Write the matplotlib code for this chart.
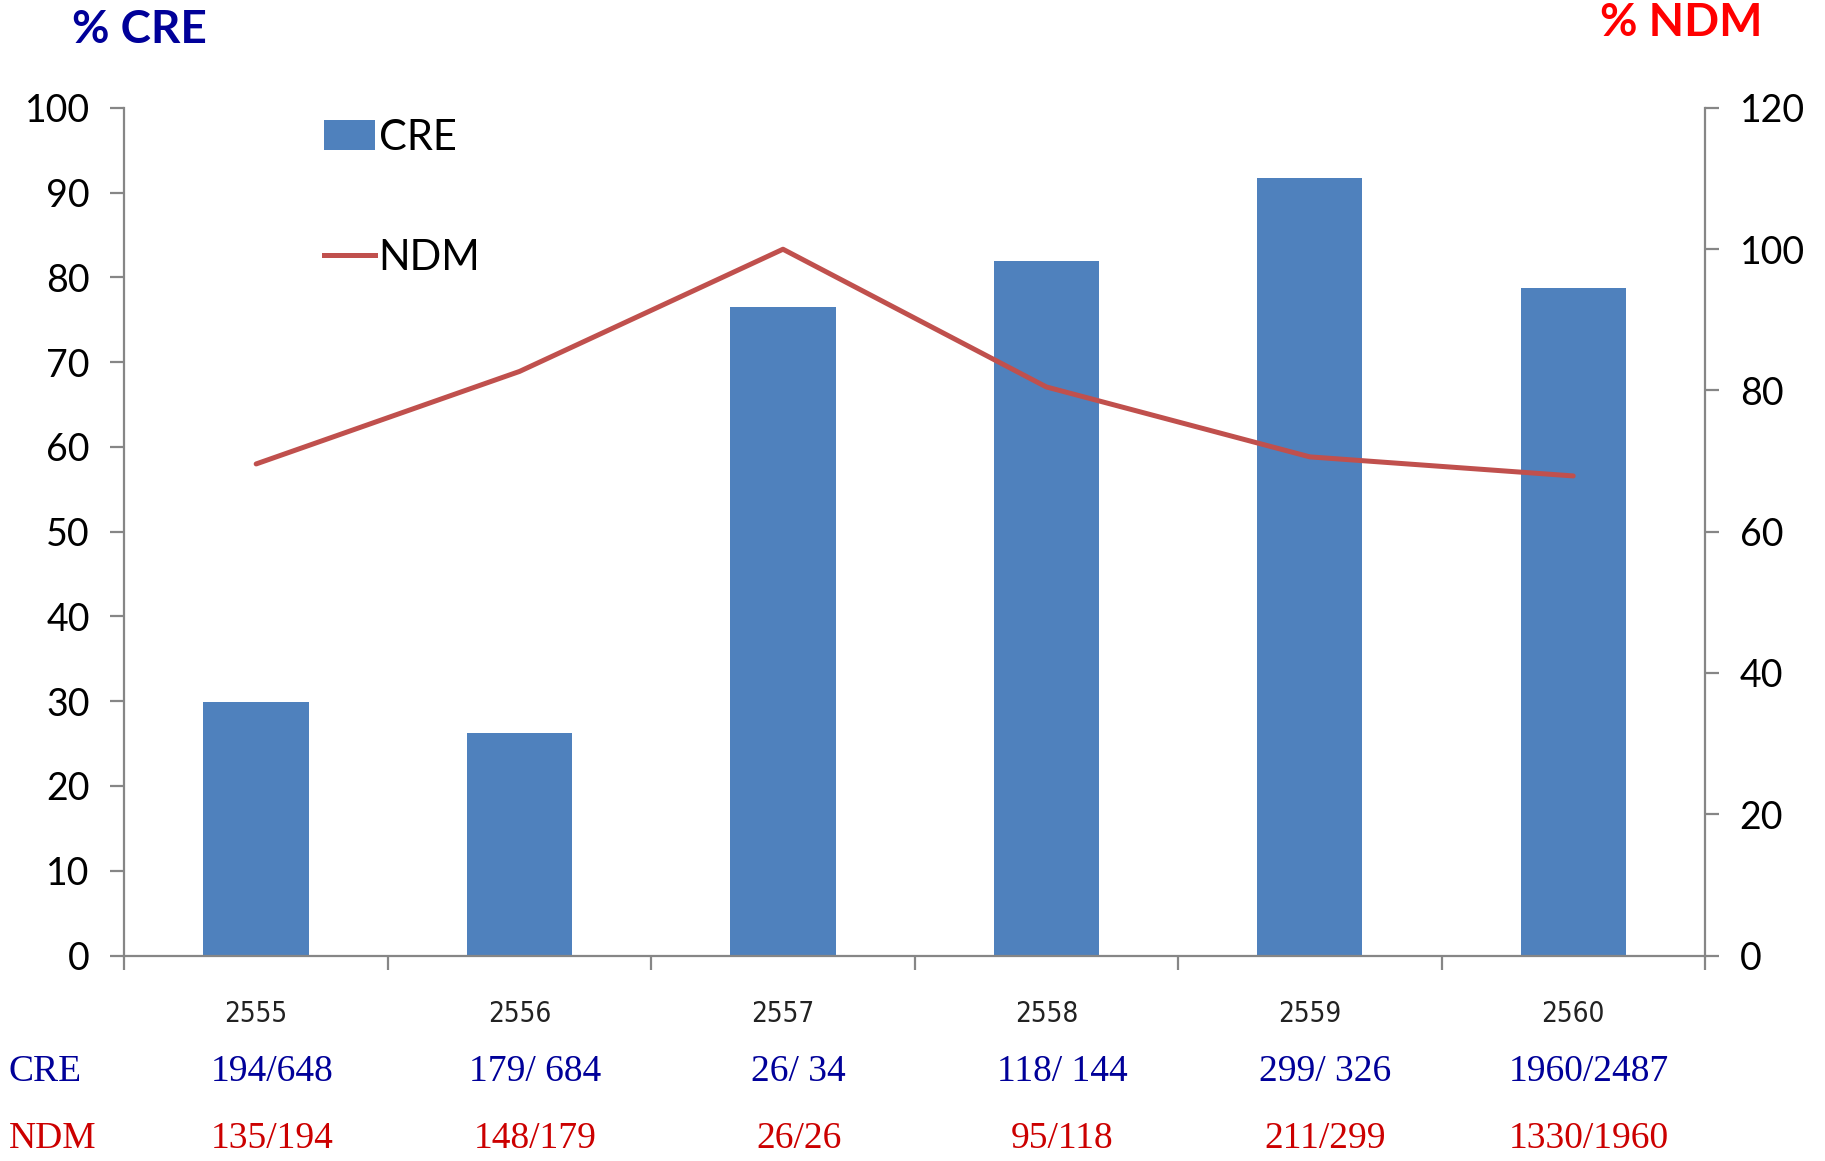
import matplotlib
matplotlib.use("Agg")
import matplotlib.pyplot as plt
import matplotlib.transforms as mtransforms
from matplotlib.lines import Line2D
from matplotlib.patches import Patch
from matplotlib import font_manager

years = ["2555", "2556", "2557", "2558", "2559", "2560"]
cre_pct = [29.9, 26.2, 76.5, 81.9, 91.7, 78.8]
ndm_pct = [69.6, 82.7, 100.0, 80.5, 70.6, 67.9]
cre_counts = ["194/648", "179/ 684", "26/ 34", "118/ 144", "299/ 326", "1960/2487"]
ndm_counts = ["135/194", "148/179", "26/26", "95/118", "211/299", "1330/1960"]

BAR = "#4F81BD"
LINE = "#C0504D"
SPINE = "#868686"
TF = "Lato"

names = {f.name for f in font_manager.fontManager.ttflist}
if "Liberation Sans Narrow" in names:
    YEAR_FAM = "Liberation Sans Narrow"
    YEAR_STRETCH = "normal"
else:
    YEAR_FAM = "DejaVu Sans"
    YEAR_STRETCH = "condensed"

fig = plt.figure(figsize=(18.25, 11.61), dpi=100)
ax = fig.add_axes([0.0682, 0.177, 0.8660, 0.730])
ax2 = ax.twinx()

x = list(range(len(years)))
ax.bar(x, cre_pct, width=0.4, color=BAR, zorder=2)
ax2.plot(x, ndm_pct, color=LINE, lw=3.6, zorder=3, solid_capstyle="round")

ax.set_xlim(-0.5, len(years) - 0.5)
ax.set_ylim(0, 100)
ax2.set_ylim(0, 120)
ax.set_yticks(range(0, 101, 10))
ax2.set_yticks(range(0, 121, 20))
ax.set_xticks([i - 0.5 for i in range(len(years) + 1)])
ax.set_xticklabels([])

for a in (ax, ax2):
    a.spines["top"].set_visible(False)
    for s in ("left", "right", "bottom"):
        a.spines[s].set_color(SPINE)
        a.spines[s].set_linewidth(1.6)
ax.spines["right"].set_visible(False)
ax2.spines["left"].set_visible(False)
ax2.spines["bottom"].set_visible(False)

ax.tick_params(axis="y", direction="out", length=10, width=1.6, color=SPINE,
               labelsize=27, pad=15)
ax.tick_params(axis="x", direction="out", length=10, width=1.6, color=SPINE)
ax2.tick_params(axis="y", direction="out", length=10, width=1.6, color=SPINE,
                labelsize=27, pad=15)
for lab in ax.get_yticklabels() + ax2.get_yticklabels():
    lab.set_fontfamily(TF)

trans = mtransforms.blended_transform_factory(ax.transData, fig.transFigure)
for i, y in enumerate(years):
    ax.text(i, 1 - 1014 / 1161, y, transform=trans, ha="center", va="center",
            fontsize=20, family=YEAR_FAM, fontstretch=YEAR_STRETCH,
            color="#222222")
    ax.text(i + 0.06, 1 - 1072 / 1161, cre_counts[i], transform=trans,
            ha="center", va="center", fontsize=27, family="Liberation Serif",
            color="#000099")
    ax.text(i + 0.06, 1 - 1139 / 1161, ndm_counts[i], transform=trans,
            ha="center", va="center", fontsize=27, family="Liberation Serif",
            color="#CC0000")

fig.text(9 / 1825, 1 - 1072 / 1161, "CRE", ha="left", va="center",
         fontsize=27, family="Liberation Serif", color="#000099")
fig.text(9 / 1825, 1 - 1139 / 1161, "NDM", ha="left", va="center",
         fontsize=27, family="Liberation Serif", color="#CC0000")

fig.text(72 / 1825, 1 - 30 / 1161, "% CRE", ha="left", va="center",
         fontsize=33, fontweight="bold", family=TF, color="#000099")
fig.text(1763 / 1825, 1 - 23 / 1161, "% NDM", ha="right", va="center",
         fontsize=33, fontweight="bold", family=TF, color="#FF0000")

handles = [Patch(facecolor=BAR, edgecolor="none", label="CRE"),
           Line2D([0], [0], color=LINE, lw=3.6, label="NDM")]
leg = ax.legend(handles=handles, loc="upper left",
                bbox_to_anchor=(307 / 1825, 1 - 102 / 1161),
                bbox_transform=fig.transFigure, frameon=False,
                borderaxespad=0, borderpad=0.4,
                prop={"family": TF, "size": 30}, handlelength=1.22,
                handleheight=0.7, handletextpad=0.1, labelspacing=1.97)

fig.savefig("out.png", dpi=100)
